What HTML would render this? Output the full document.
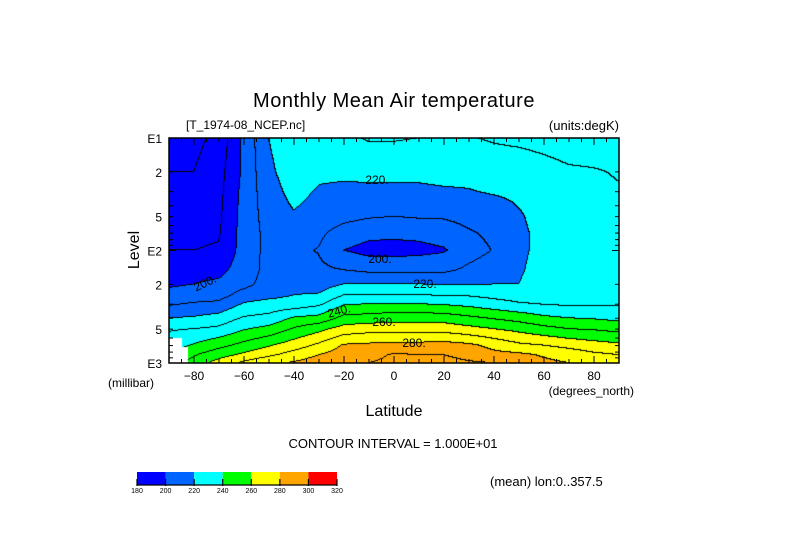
<!DOCTYPE html>
<html><head><meta charset="utf-8">
<style>
html,body{margin:0;padding:0;background:#fff;}
#wrap{position:relative;width:789px;height:558px;overflow:hidden;font-family:"Liberation Sans",sans-serif;}
#plot{position:absolute;left:0;top:0;}
#ov{position:absolute;left:0;top:0;}
text{font-family:"Liberation Sans",sans-serif;fill:#000;}
</style></head>
<body>
<div id="wrap">
<canvas id="plot" width="789" height="558"></canvas>
<svg id="ov" width="789" height="558"></svg>
</div>
<script>
const lats=[-90,-80,-70,-60,-50,-40,-30,-20,-10,0,10,20,30,40,50,60,70,80,90];
const levels=[1000,850,700,500,400,300,250,200,150,100,70,50,30,20,10];
const t1000=[245,254,264,272,278,281,285,289,290,292,292,293,291,290,286,282,280,278,276];
const t850=[240,249,256,262,268,274,280,285,287,291,290,290,287,283,282,279,276,272,270];
const t700=[235,241,247,253,259,265,272,281,282,283,283,284,282,277,272,270,267,264,262];
const t500=[229,230,232,239,243,251,257,264,266,266,266,266,263,260,257,253,250,249,247];
const t400=[220,221,224,231,233,241,243,253,254,256,256,255,252,249,246,242,240,239,237];
const t300=[208.7,211,212,221,223.5,224,228,239,240,240,240,239,237,234,231,229.5,228.5,229,229];
const t250=[203,205,206,214,217,220,221,230,230,230,230,229.5,229,227,225,226,226,226.5,227];
const t200=[198.5,200,202,207,214,216,215,220,220,220,220,219.5,219,220,220,224,225,225.5,226];
const t150=[195,196,197,205,213,213,212,210,208,208,208,208,212,215,219,223,224.5,225,226];
const t100=[190,190,191,204,213,212,209.5,200,196.5,196,197,199,206,210.5,218.5,222,224.5,225,226];
const t70=[188,188,189,204,213,215,212,206,203,202.5,203,205,209,212,218.5,222,225,226,227];
const t50=[186,186,188,204,214,219,216,213,211,210,211,211,213,214,219,223,226,227,228];
const t30=[183,183,187,203,216,223,219,218,218.5,218.5,218.5,219,219.5,221,222,225,227,228.5,229.5];
const t20=[180,180,186,202,218,225,222,222,222,222,222,223,223,225,225,227,229,229.5,230.5];
const t10=[178,177,183,202,220,227,227,228,231,231,230,228,229.5,231,232,233,234,234,234];
const colorLevels=[180,200,220,240,260,280,300,320];
const colors=['#0000ff','#0064ff','#00ffff','#00ff00','#ffff00','#ffa500','#ff0000'];
const xTickLabels=[-80,-60,-40,-20,0,20,40,60,80];
const yTickLabels=[[10,'E1'],[20,'2'],[50,'5'],[100,'E2'],[200,'2'],[500,'5'],[1000,'E3']];

const grid=[t1000,t850,t700,t500,t400,t300,t250,t200,t150,t100,t70,t50,t30,t20,t10];
const X0=169,X1=619,Y0=138,Y1=363;
function xOf(lat){return X0+(lat+90)/180*(X1-X0);}
function yOf(p){return Y1-(Math.log10(p)-3)/(1-3)*(Y1-Y0);}
function latOf(x){return -90+(x-X0)/(X1-X0)*180;}
const levY=levels.map(yOf);
function T(x,y){
  const lat=latOf(x);let f=(lat-lats[0])/(lats[1]-lats[0]);
  let i=Math.max(0,Math.min(lats.length-2,Math.floor(f)));let a=f-i;
  let k=0;while(k<levY.length-2&&y<levY[k+1])k++;
  let b=(levY[k]-y)/(levY[k]-levY[k+1]);b=Math.max(0,Math.min(1,b));
  const v0=grid[k][i]*(1-b)+grid[k+1][i]*b;
  const v1=grid[k][i+1]*(1-b)+grid[k+1][i+1]*b;
  return v0*(1-a)+v1*a;
}
function hex(c){return [parseInt(c.slice(1,3),16),parseInt(c.slice(3,5),16),parseInt(c.slice(5,7),16)];}
const cv=document.getElementById('plot');const ctx=cv.getContext('2d');
const W=X1-X0,H=Y1-Y0;
const img=ctx.createImageData(W,H);
const vals=new Float32Array(W*H);
for(let j=0;j<H;j++)for(let i=0;i<W;i++)vals[j*W+i]=T(X0+i+0.5,Y0+j+0.5);
for(let j=0;j<H;j++)for(let i=0;i<W;i++){
  const v=vals[j*W+i];let ci=0;
  while(ci<colors.length-1&&v>=colorLevels[ci+1])ci++;
  let rgb=hex(colors[ci]);
  const b=Math.floor(v/10);
  if((i<W-1&&Math.floor(vals[j*W+i+1]/10)!==b)||(j<H-1&&Math.floor(vals[(j+1)*W+i]/10)!==b))rgb=[0,0,0];
  const o=(j*W+i)*4;img.data[o]=rgb[0];img.data[o+1]=rgb[1];img.data[o+2]=rgb[2];img.data[o+3]=255;
}
ctx.putImageData(img,X0,Y0);
// missing data mask
ctx.fillStyle='#fff';ctx.beginPath();
ctx.moveTo(169,338);ctx.lineTo(182,338);ctx.lineTo(182,347);ctx.lineTo(188,347);ctx.lineTo(188,363);ctx.lineTo(169,363);ctx.closePath();ctx.fill();

const NS='http://www.w3.org/2000/svg';
const svg=document.getElementById('ov');
function mk(tag,attrs){const e=document.createElementNS(NS,tag);for(const k in attrs)e.setAttribute(k,attrs[k]);svg.appendChild(e);return e;}
function txt(x,y,s,size,anchor){const e=mk('text',{x:x,y:y,'font-size':size,'text-anchor':anchor||'start'});e.textContent=s;return e;}

// contour labels
const clabels=[[205,287,'200.',-25],[377,184,'220.',0],[380,263,'200.',0],[425,288,'220.',0],[339,315,'240.',-15],[384,326,'260.',0],[414,347,'280.',0]];
clabels.forEach(c=>{
  const t=txt(c[0],c[1],c[2],12,'middle');
  
  
  if(c[3])t.setAttribute('transform','rotate('+c[3]+' '+c[0]+' '+(c[1]-4)+')');
});

// frame
const fr=mk('rect',{x:X0,y:Y0,width:X1-X0,height:Y1-Y0,fill:'none',stroke:'#000','stroke-width':1.5});


// x ticks
for(let lat=-85;lat<=85;lat+=5){
  const x=xOf(lat);const len=(lat%20===0)?7:4;
  const t1=mk('line',{x1:x,y1:Y1,x2:x,y2:Y1-len,stroke:'#000'});
  
  
  const t2=mk('line',{x1:x,y1:Y0,x2:x,y2:Y0+len,stroke:'#000'});
  
  
}
xTickLabels.forEach(l=>{
  const t=txt(xOf(l),380,(l<0?'\u2212':'')+Math.abs(l),12,'middle');
  
  
});
// y ticks
[10,100].forEach(d=>{for(let m=1;m<10;m++){const p=d*m;const y=yOf(p);const len=(m===1)?7:4;
  const a=mk('line',{x1:X0,y1:y,x2:X0+len,y2:y,stroke:'#000'});
  
  
  const b=mk('line',{x1:X1,y1:y,x2:X1-len,y2:y,stroke:'#000'});
  
  
}});
yTickLabels.forEach(l=>{
  const t=txt(162,yOf(l[0])+5,l[1],12,'end');
  
  
});

// colorbar
for(let i=0;i<colors.length;i++){
  const x=137+i*(200/colors.length);
  const r=mk('rect',{x:x,y:472,width:200/colors.length,height:13,fill:colors[i]});
  
  
}
colorLevels.forEach((l,i)=>{
  const x=137+i*(200/colors.length);
  const ln=mk('line',{x1:x,y1:479,x2:x,y2:486,stroke:'#000','stroke-width':1.2});
  
  
  const t=txt(x,493,String(l),7,'middle');
  
  
});
const cbl=mk('line',{x1:137,y1:485,x2:337,y2:485,stroke:'#000','stroke-width':1.2});


</script>
<svg width="789" height="558" style="position:absolute;left:0;top:0;pointer-events:none">
<text x="394" y="107" font-size="20" text-anchor="middle" letter-spacing="0.5">Monthly Mean Air temperature</text>
<text x="186" y="129" font-size="12">[T_1974-08_NCEP.nc]</text>
<text x="619" y="130" font-size="13" text-anchor="end">(units:degK)</text>
<text x="0" y="0" font-size="16" text-anchor="middle" transform="translate(139,250) rotate(-90)">Level</text>
<text x="108" y="387" font-size="12">(millibar)</text>
<text x="634" y="395" font-size="12" text-anchor="end">(degrees_north)</text>
<text x="394" y="416" font-size="16" text-anchor="middle">Latitude</text>
<text x="393" y="448" font-size="13" text-anchor="middle">CONTOUR INTERVAL = 1.000E+01</text>
<text x="490" y="486" font-size="13">(mean) lon:0..357.5</text>
</svg>
</body></html>
